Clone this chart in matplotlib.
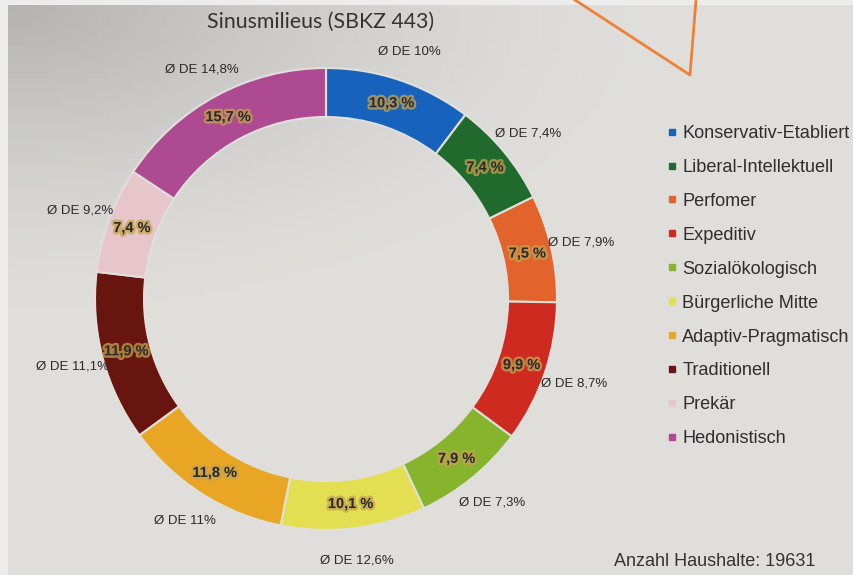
import numpy as np
import matplotlib.pyplot as plt
from matplotlib.lines import Line2D
import matplotlib.patheffects as pe

plt.rcParams['font.family'] = ['Liberation Sans', 'DejaVu Sans']

#---DATA----------------------------------------------------------------------------------------------------
milieus = ['Konservativ-Etabliert', 'Liberal-Intellektuell', 'Perfomer', 'Expeditiv',
           'Sozialökologisch', 'Bürgerliche Mitte', 'Adaptiv-Pragmatisch',
           'Traditionell', 'Prekär', 'Hedonistisch']
share = [10.3, 7.4, 7.5, 9.9, 7.9, 10.1, 11.8, 11.9, 7.4, 15.7]    # % in SBKZ 443
avg_de = [10, 7.4, 7.9, 8.7, 7.3, 12.6, 11, 11.1, 9.2, 14.8]       # Ø Deutschland
colors = ['#1762bd', '#1f6a2c', '#e2632b', '#cf2a1f', '#86b52d',
          '#e4df52', '#e8a624', '#68150f', '#e6c6cb', '#ad4a91']
title = 'Sinusmilieus (SBKZ 443)'
n_households = 19631

def de(v):
    #German decimal comma
    return ('%g' % v).replace('.', ',')

#---FIGURE--------------------------------------------------------------------------------------------------
W, H = 854, 575
fig = plt.figure(figsize=(W/100, H/100), dpi=100, facecolor='#ececec')

#photographed paper background, a bit darker towards the top left
bg = fig.add_axes([8/W, 0, (W-8)/W, (H-5)/H])
yy, xx = np.mgrid[0:1:100j, 0:1:150j]
dark = np.clip(1.0 - np.hypot(xx*1.3, yy*1.8), 0, 1)**1.5
paper = np.array([0.875, 0.872, 0.862])
img = paper[None, None, :] - 0.17*dark[:, :, None]
bg.imshow(img, aspect='auto', extent=(0, 1, 0, 1), origin='upper')
bg.axis('off')

ax = fig.add_axes([0, 0, 1, 1])
ax.patch.set_visible(False)

cx, cy = 326, H-299      # donut centre in pixels
R, ring = 231, 49

wedges, _ = ax.pie(share, colors=colors, startangle=90, counterclock=False,
                   radius=R, center=(cx, cy),
                   wedgeprops=dict(width=ring, edgecolor='#e0dfdb', linewidth=1.5))
ax.set_xlim(0, W)
ax.set_ylim(0, H)
ax.set_aspect('auto')
ax.axis('off')

#---LABELS--------------------------------------------------------------------------------------------------
halo = [pe.withStroke(linewidth=3.5, foreground='#c4a24e', alpha=0.75)]
for w, s, d in zip(wedges, share, avg_de):
    mid = np.radians((w.theta1 + w.theta2)/2)
    # share inside the ring
    r_in = R - ring/2
    ax.text(cx + r_in*np.cos(mid), cy + r_in*np.sin(mid), de(s) + ' %',
            ha='center', va='center', fontsize=10.5, fontweight='bold',
            color='#2a2a2a', path_effects=halo)
    # national average outside
    r_out = R + 31
    ax.text(cx + r_out*np.cos(mid), cy + r_out*np.sin(mid) - 1, 'Ø DE ' + de(d) + '%',
            ha='center', va='center', fontsize=9.5, color='#2a2a2a')

fig.text(321/W, 1 - 22/H, title, ha='center', va='center', fontsize=15.3,
         family=['Lato', 'DejaVu Sans'], color='#333333')

fig.text(715/W, 1 - 562/H, 'Anzahl Haushalte: %d' % n_households, ha='center', va='center',
         fontsize=13, color='#333333')

handles = [Line2D([], [], marker='s', markersize=5, linestyle='none', color=c) for c in colors]
leg = fig.legend(handles, milieus, loc='upper left', bbox_to_anchor=(667/W, 1 - 125/H),
                 frameon=False, fontsize=13.1, handlelength=0.6, handletextpad=0.25,
                 labelspacing=0.93, borderaxespad=0, borderpad=0)
for t in leg.get_texts():
    t.set_color('#2e2e2e')

#hand drawn orange mark from the photo
fig.add_artist(Line2D([575/W, 690/W, 696/W], [1.0, 1 - 75/H, 1.0],
                      color='#ef8136', linewidth=2, transform=fig.transFigure))

fig.savefig('out.png', dpi=100, facecolor=fig.get_facecolor())
